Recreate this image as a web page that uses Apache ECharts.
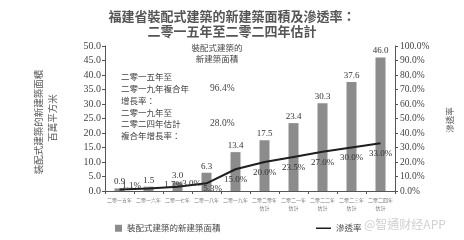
<!DOCTYPE html>
<html>
<head>
<meta charset="utf-8">
<script src="https://cdn.jsdelivr.net/npm/echarts@6/dist/echarts.min.js"></script>
<style>
  html, body { margin: 0; padding: 0; background: #fff; }
  #main { width: 464px; height: 240px; }
</style>
</head>
<body>
<div id="main"></div>
<script>
// 福建省装配式建筑新建筑面积及渗透率
var years = ['二零一五年', '二零一六年', '二零一七年', '二零一八年', '二零一九年',
  '二零二零年\n估計', '二零二一年\n估計', '二零二二年\n估計', '二零二三年\n估計', '二零二四年\n估計'];
var area = [0.9, 1.5, 3.0, 6.3, 13.4, 17.5, 23.4, 30.3, 37.6, 46.0];
var rate = [1.1, 1.7, 3.0, 5.3, 15.0, 20.0, 23.5, 27.0, 30.0, 33.0];

var serif = '"Liberation Serif", "Noto Sans CJK TC", serif';
var cjk = '"Noto Sans CJK TC", sans-serif';

// 早期几个百分比标签在原图中偏右上
var rateLabelShift = [[12, -14], [25, -14], [14, -14], [6, -5]];

var myChart = echarts.init(document.getElementById('main'));
var option = {
  animation: false,
  backgroundColor: '#fff',
  title: {
    text: '福建省裝配式建築的新建築面積及滲透率：\n二零一五年至二零二四年估計',
    left: 'center',
    top: 4,
    textStyle: { fontFamily: cjk, fontSize: 13, fontWeight: 'bold', color: '#555', lineHeight: 15 }
  },
  legend: [
    {
      data: [{ name: '裝配式建築的新建築面積', icon: 'rect' }],
      left: 110, top: 219,
      itemWidth: 7, itemHeight: 7,
      textStyle: { fontFamily: cjk, fontSize: 8.5, color: '#444' }
    },
    {
      data: [{ name: '滲透率', icon: 'rect' }],
      left: 311, top: 219,
      itemWidth: 15, itemHeight: 1.5,
      textStyle: { fontFamily: cjk, fontSize: 8.5, color: '#444' }
    }
  ],
  grid: { left: 105, right: 69, top: 46, bottom: 49 },
  xAxis: {
    type: 'category',
    data: years,
    axisLine: { lineStyle: { color: '#555' } },
    axisTick: { show: true, length: 3, lineStyle: { color: '#555' } },
    axisLabel: { fontFamily: cjk, fontSize: 5, color: '#777', lineHeight: 8, margin: 5, interval: 0 }
  },
  yAxis: [
    {
      type: 'value', min: 0, max: 50, interval: 5,
      axisLine: { show: true, lineStyle: { color: '#555' } },
      axisTick: { show: true, length: 3, lineStyle: { color: '#555' } },
      splitLine: { show: false },
      axisLabel: { fontFamily: serif, fontSize: 10, color: '#444', margin: 4,
        formatter: function (v) { return v.toFixed(1); } }
    },
    {
      type: 'value', min: 0, max: 100, interval: 10,
      axisLine: { show: true, lineStyle: { color: '#555' } },
      axisTick: { show: true, length: 3, lineStyle: { color: '#555' } },
      splitLine: { show: false },
      axisLabel: { fontFamily: serif, fontSize: 9.5, color: '#444', margin: 5,
        formatter: function (v) { return v.toFixed(1) + '%'; } }
    }
  ],
  series: [
    {
      name: '裝配式建築的新建築面積',
      type: 'bar',
      data: area,
      barWidth: 10,
      itemStyle: { color: '#8c8c8c' },
      label: {
        show: true, position: 'top', distance: 2,
        fontFamily: serif, fontSize: 9, color: '#333',
        formatter: function (p) { return p.value.toFixed(1); }
      }
    },
    {
      name: '滲透率',
      type: 'line',
      yAxisIndex: 1,
      symbol: 'circle',
      symbolSize: 0,
      lineStyle: { color: '#1e1e1e', width: 2 },
      itemStyle: { color: '#1e1e1e' },
      data: rate,
      label: {
        show: true, position: 'bottom', distance: 6,
        fontFamily: serif, fontSize: 9, color: '#333',
        formatter: function (p) { return p.value.toFixed(1) + '%'; }
      },
      labelLayout: function (params) {
        var s = rateLabelShift[params.dataIndex] || [0, 0];
        return { dx: s[0], dy: s[1], hideOverlap: false };
      }
    }
  ],
  graphic: [
    {
      type: 'text', x: 217, y: 42,
      style: { text: '裝配式建築的\n新建築面積', fontFamily: cjk, fontSize: 8.5, lineHeight: 11,
        fill: '#444', align: 'center' }
    },
    {
      type: 'text', x: 121, y: 71,
      style: { text: '二零一五年至\n二零一九年複合年\n增長率：\n二零一九年至\n二零二四年估計\n複合年增長率：',
        fontFamily: cjk, fontSize: 8.5, lineHeight: 11.8, fill: '#444' }
    },
    {
      type: 'text', x: 210, y: 84,
      style: { text: '96.4%', fontFamily: serif, fontSize: 9.5, fill: '#444' }
    },
    {
      type: 'text', x: 210, y: 119,
      style: { text: '28.0%', fontFamily: serif, fontSize: 9.5, fill: '#444' }
    },
    {
      type: 'text', x: 38, y: 122, rotation: Math.PI / 2,
      style: { text: '裝配式建築的新建築面積', fontFamily: cjk, fontSize: 9.5, fill: '#555',
        align: 'center', verticalAlign: 'middle' }
    },
    {
      type: 'text', x: 52, y: 118, rotation: Math.PI / 2,
      style: { text: '百萬平方米', fontFamily: cjk, fontSize: 9.5, fill: '#555',
        align: 'center', verticalAlign: 'middle' }
    },
    {
      type: 'text', x: 450, y: 120, rotation: Math.PI / 2,
      style: { text: '滲透率', fontFamily: cjk, fontSize: 8.5, fill: '#555',
        align: 'center', verticalAlign: 'middle' }
    },
    {
      type: 'text', x: 364, y: 218,
      style: { text: '@智通财经APP', fontFamily: cjk, fontSize: 12, fill: '#d0d0d0' }
    }
  ]
};
myChart.setOption(option);
</script>
</body>
</html>
